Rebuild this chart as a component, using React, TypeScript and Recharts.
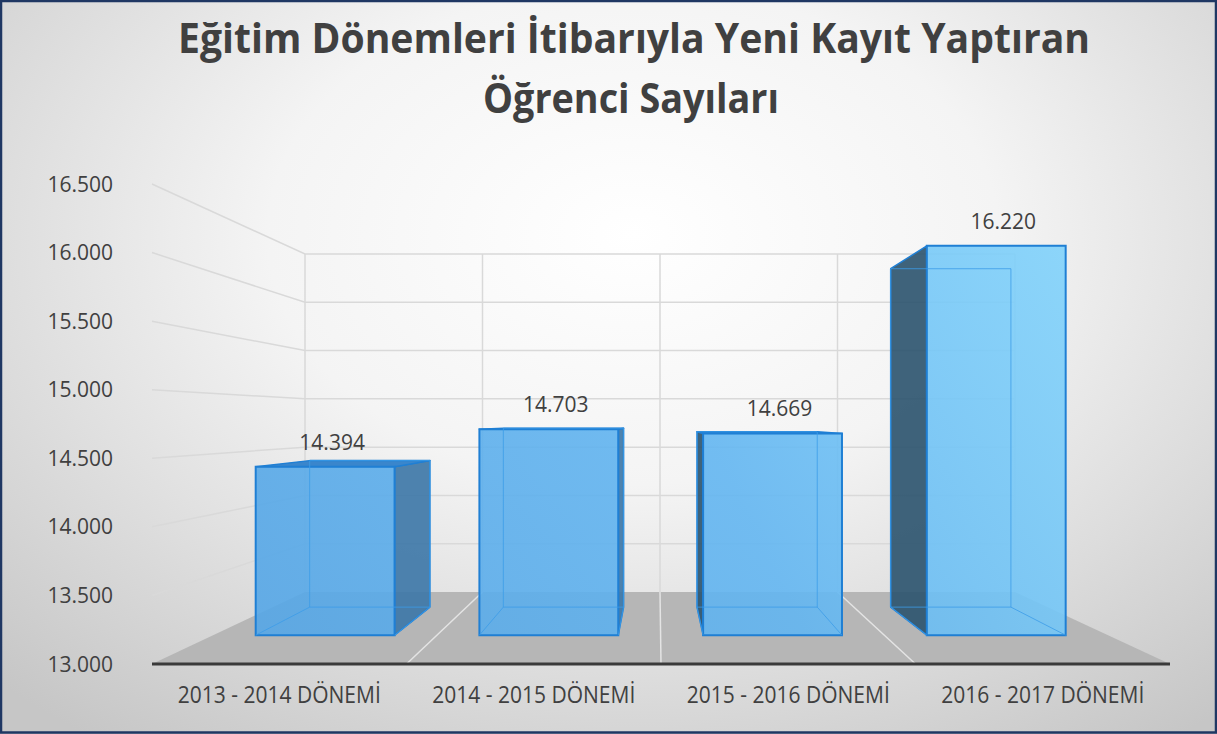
import React from 'react';
import { BarChart, Bar, XAxis, YAxis, CartesianGrid, LabelList } from 'recharts';

const categories = ['2013 - 2014 DÖNEMİ', '2014 - 2015 DÖNEMİ', '2015 - 2016 DÖNEMİ', '2016 - 2017 DÖNEMİ'];
const students = [14394, 14703, 14669, 16220];
const yTicks = [13000, 13500, 14000, 14500, 15000, 15500, 16000, 16500];
const titleLines = ['Eğitim Dönemleri İtibarıyla Yeni Kayıt Yaptıran', 'Öğrenci Sayıları'];

const data = categories.map((name, i) => ({ name, value: students[i] }));

const W = 1217;
const H = 734;
// front plane is where the axes sit, back is the rear wall of the 3d box
const FRONT = { left: 152, right: 1170, top: 184, bottom: 664 };
const BACK = { left: 305, right: 1015, top: 254, bottom: 592 };
const BAR_FRONT = 0.4;
const BAR_BACK = 0.79;
const TEXT = '#404040';
const FONT = '"Open Sans", sans-serif';

const fmt = (v: number) => String(v).replace(/\B(?=(\d{3})+(?!\d))/g, '.');

// push a point of the front plane back to depth t (0 = front, 1 = back wall)
const project = (x: number, y: number, t: number): [number, number] => {
    const u = (x - FRONT.left) / (FRONT.right - FRONT.left);
    const f = (FRONT.bottom - y) / (FRONT.bottom - FRONT.top);
    const bx = BACK.left + u * (BACK.right - BACK.left);
    const by = BACK.bottom - f * (BACK.bottom - BACK.top);
    return [x + (bx - x) * t, y + (by - y) * t];
};

const pts = (list: [number, number][]) => list.map(p => p.join(',')).join(' ');

const WallLine = (props: any) => {
    const { x1, x2, y1, index } = props;
    const a = project(x1, y1, 0);
    const b = project(x1, y1, 1);
    const c = project(x2, y1, 1);
    if (y1 >= FRONT.bottom - 0.5) {
        // floor plus the category dividers and back wall verticals
        const n = categories.length;
        const floor = [project(x1, y1, 0), project(x2, y1, 0), project(x2, y1, 1), project(x1, y1, 1)];
        const items = [];
        for (let i = 0; i <= n; i++) {
            const xi = x1 + ((x2 - x1) * i) / n;
            const top = project(xi, FRONT.top, 1);
            const bot = project(xi, y1, 1);
            items.push(<line key={'v' + i} x1={top[0]} y1={top[1]} x2={bot[0]} y2={bot[1]} stroke="#d9d9d9" strokeWidth={1.5} />);
            if (i > 0 && i < n) {
                const fr = project(xi, y1, 0);
                items.push(<line key={'d' + i} x1={fr[0]} y1={fr[1]} x2={bot[0]} y2={bot[1]} stroke="#e4e4e4" strokeWidth={1.5} />);
            }
        }
        return (
            <g key={'floor' + index}>
                <polygon points={pts(floor as [number, number][])} fill="#b6b6b6" />
                {items}
            </g>
        );
    }
    return (
        <path
            key={'wall' + index}
            d={`M${a[0]},${a[1]}L${b[0]},${b[1]}L${c[0]},${c[1]}`}
            fill="none"
            stroke="#d9d9d9"
            strokeWidth={1.5}
        />
    );
};

const Box3D = (props: any) => {
    const { x, y, width, height } = props;
    if (height == null || width == null) return null;
    const xl = x, xr = x + width, yt = y, yb = y + height;
    const F = (px: number, py: number) => project(px, py, BAR_FRONT);
    const B = (px: number, py: number) => project(px, py, BAR_BACK);
    const ftl = F(xl, yt), ftr = F(xr, yt), fbl = F(xl, yb), fbr = F(xr, yb);
    const btl = B(xl, yt), btr = B(xr, yt), bbl = B(xl, yb), bbr = B(xr, yb);
    const edge = { stroke: '#1f7fd4', strokeWidth: 1.5, strokeLinejoin: 'round' as const };
    const faces = [];
    if (btr[0] > ftr[0] + 0.5) {
        faces.push(<polygon key="r" points={pts([ftr, btr, bbr, fbr])} fill="#3f78a8" fillOpacity={0.92} {...edge} />);
    }
    if (btl[0] < ftl[0] - 0.5) {
        faces.push(<polygon key="l" points={pts([ftl, btl, bbl, fbl])} fill="#2f5670" fillOpacity={0.92} {...edge} />);
    }
    if (btl[1] < ftl[1]) {
        faces.push(<polygon key="t" points={pts([ftl, ftr, btr, btl])} fill="#3a86cc" {...edge} />);
    }
    const hidden = `M${btl}L${btr}L${bbr}L${bbl}ZM${bbl}L${fbl}M${bbr}L${fbr}`;
    return (
        <g>
            {faces}
            <polygon points={pts([ftl, ftr, fbr, fbl])} fill="url(#barFront)" fillOpacity={0.9} stroke="#1f7fd4" strokeWidth={2} />
            <path d={hidden} fill="none" stroke="#3c9ce9" strokeWidth={1} strokeOpacity={0.8} />
        </g>
    );
};

const TopLabel = (props: any) => {
    const { x, y, width, value } = props;
    const [cx, cy] = project(x + width / 2, y, BAR_FRONT);
    return (
        <text x={cx + 7} y={cy - 17} textAnchor="middle" fontSize={21} fill={TEXT} fontFamily={FONT}>
            {fmt(value)}
        </text>
    );
};

const YTick = (props: any) => (
    <text x={props.x} y={props.y} dy={7.5} textAnchor="end" fontSize={21} fill={TEXT} fontFamily={FONT}>
        {fmt(props.payload.value)}
    </text>
);

const XTick = (props: any) => (
    <text
        x={props.x}
        y={props.y}
        dy={39}
        textAnchor="middle"
        fontSize={23}
        textLength={203}
        lengthAdjust="spacingAndGlyphs"
        fill={TEXT}
        fontFamily={FONT}
    >
        {props.payload.value}
    </text>
);

const App = () => {
    return (
        <div
            style={{
                position: 'relative',
                width: W,
                height: H,
                background: 'radial-gradient(ellipse 75% 85% at 52% 32%, #ffffff 0%, #f4f4f4 40%, #c6c6c6 100%)',
                fontFamily: FONT,
            }}
        >
            <style>{'body{margin:0}'}</style>
            <svg width={0} height={0} style={{ position: 'absolute' }}>
                <defs>
                    <linearGradient id="barFront" gradientUnits="userSpaceOnUse" x1={250} y1={640} x2={1070} y2={240}>
                        <stop offset="0%" stopColor="#55a6e6" />
                        <stop offset="55%" stopColor="#63b6f1" />
                        <stop offset="100%" stopColor="#82d3fb" />
                    </linearGradient>
                </defs>
            </svg>
            <BarChart
                width={W}
                height={H}
                data={data}
                margin={{ top: FRONT.top, right: W - FRONT.right, bottom: H - FRONT.bottom - 40, left: FRONT.left - 100 }}
                barCategoryGap="19%"
            >
                <CartesianGrid vertical={false} horizontal={WallLine} />
                <XAxis
                    dataKey="name"
                    height={40}
                    tickLine={false}
                    tickSize={0}
                    tickMargin={0}
                    axisLine={{ stroke: '#3a3a3a', strokeWidth: 3 }}
                    tick={XTick}
                    interval={0}
                />
                <YAxis
                    width={100}
                    domain={[13000, 16500]}
                    ticks={yTicks}
                    allowDataOverflow
                    axisLine={false}
                    tickLine={false}
                    tickSize={0}
                    tickMargin={39}
                    tick={YTick}
                />
                <Bar dataKey="value" shape={Box3D} isAnimationActive={false}>
                    <LabelList dataKey="value" content={TopLabel} />
                </Bar>
            </BarChart>
            <svg width={W} height={H} style={{ position: 'absolute', left: 0, top: 0, pointerEvents: 'none' }}>
                <text x={634} y={53} textAnchor="middle" textLength={912} lengthAdjust="spacingAndGlyphs" fontSize={41} fontWeight={700} fill={TEXT} fontFamily={FONT}>
                    {titleLines[0]}
                </text>
                <text x={631} y={113} textAnchor="middle" textLength={296} lengthAdjust="spacingAndGlyphs" fontSize={41} fontWeight={700} fill={TEXT} fontFamily={FONT}>
                    {titleLines[1]}
                </text>
                <rect x={1} y={1} width={W - 2} height={H - 2.5} fill="none" stroke="#1f3763" strokeWidth={2.5} />
            </svg>
        </div>
    );
};

export default App;
